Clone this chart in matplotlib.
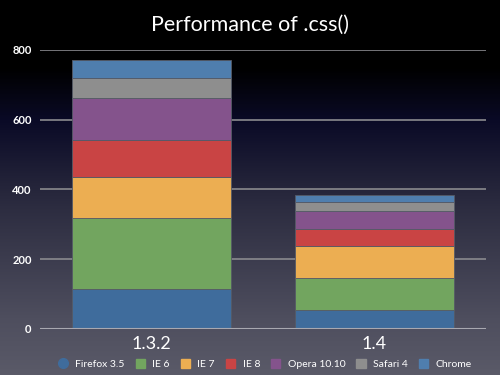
import matplotlib.pyplot as plt
import numpy as np
from matplotlib.colors import LinearSegmentedColormap
from matplotlib.lines import Line2D
from matplotlib.patches import Patch

# data
versions = ['1.3.2', '1.4']
browsers = ['Firefox 3.5', 'IE 6', 'IE 7', 'IE 8', 'Opera 10.10', 'Safari 4', 'Chrome']
firefox = [115, 54]
ie6 = [203, 92]
ie7 = [118, 93]
ie8 = [107, 47]
opera = [118, 53]
safari = [58, 24]
chrome = [52, 22]
series = [firefox, ie6, ie7, ie8, opera, safari, chrome]
colors = ['#3f6c9c', '#72a55f', '#ecae52', '#c94444', '#84538c', '#8e8e8e', '#4f7eae']
yticks = [0, 200, 400, 600, 800]

plt.rcParams['font.family'] = ['Lato', 'DejaVu Sans']

fig = plt.figure(figsize=(5, 3.75), dpi=100)

# background gradient
bg = fig.add_axes([0, 0, 1, 1], zorder=-1)
cmap = LinearSegmentedColormap.from_list('bg', [
    (0.0, '#000000'), (0.18, '#000000'), (0.32, '#0a0a26'),
    (0.55, '#2c2c40'), (0.85, '#4e4e5e'), (1.0, '#5a5a68')])
grad = np.linspace(0, 1, 256).reshape(-1, 1)
bg.imshow(grad, aspect='auto', cmap=cmap, extent=[0, 1, 0, 1], origin='upper')
bg.set_axis_off()

ax = fig.add_axes([0.08, 0.123, 0.892, 0.744])
ax.patch.set_alpha(0)
x = np.arange(len(versions))
bottom = np.zeros(len(versions))
for name, vals, c in zip(browsers, series, colors):
    ax.bar(x, vals, 0.713, bottom=bottom, color=c, edgecolor='#555a66',
           linewidth=0.6, label=name, zorder=3)
    bottom += np.array(vals)

ax.set_xlim(-0.5, 1.5)
ax.set_ylim(0, 800)
ax.set_yticks(yticks)
ax.set_yticklabels([str(v) for v in yticks], color='white', fontsize=8, fontweight='bold')
for v in yticks[1:]:
    ax.axhline(v, color='#8a8a8e', lw=1.2, zorder=1)
ax.axhline(0, color='#a8a8b0', lw=1.5, zorder=4)
ax.tick_params(axis='y', length=0, pad=6)
ax.tick_params(axis='x', length=0, pad=5)
ax.set_xticks(x)
ax.set_xticklabels(versions, color='white', fontsize=13)
for s in ax.spines.values():
    s.set_visible(False)

fig.text(0.5, 0.933, 'Performance of .css()', color='white', fontsize=15.5,
         ha='center', va='center')

# legend: Firefox uses a round marker, the rest squares
handles = [Line2D([], [], marker='o', ls='none', markersize=7, color=colors[0])]
handles += [Patch(color=c) for c in colors[1:]]
fig.legend(handles=handles, labels=browsers, loc='center', ncol=7,
           bbox_to_anchor=(0.53, 0.029), frameon=False, fontsize=7.5,
           handlelength=0.9, handleheight=0.9, columnspacing=1.05,
           handletextpad=0.7, labelcolor='white')

fig.savefig('out.png', dpi=100)
